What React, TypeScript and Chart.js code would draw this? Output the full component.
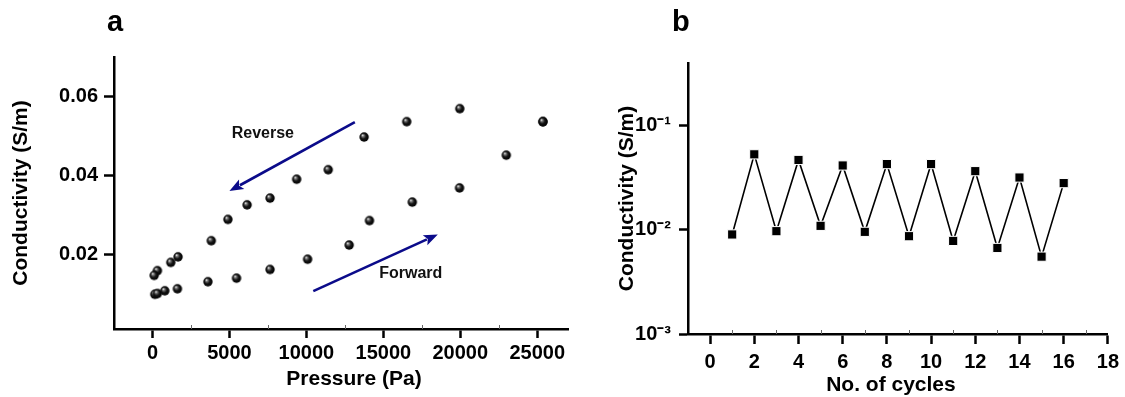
import React, { useEffect, useRef } from "react";
import { Chart, registerables } from "chart.js";

Chart.register(...registerables);

// ---------- Panel a data ----------
const forwardPressure = [150, 320, 800, 1620, 3600, 5460, 7640, 10080, 12780, 14100, 16880, 19950, 22990, 25370];
const forwardConductivity = [0.0098, 0.01, 0.0107, 0.0112, 0.013, 0.0139, 0.0161, 0.0187, 0.0223, 0.0285, 0.0332, 0.0368, 0.0451, 0.0536];
const reversePressure = [25370, 19970, 16520, 13750, 11420, 9370, 7640, 6150, 4900, 3820, 1660, 1190, 320, 110];
const reverseConductivity = [0.0536, 0.0569, 0.0536, 0.0497, 0.0414, 0.039, 0.0342, 0.0325, 0.0288, 0.0234, 0.0193, 0.0179, 0.0158, 0.0146];

const pressureTicks = [0, 5000, 10000, 15000, 20000, 25000];
const pressureMinorTicks = [2500, 7500, 12500, 17500, 22500];
const conductivityTicks = [0.02, 0.04, 0.06];

// annotation anchors (data units)
const reverseArrowFrom = [13150, 0.0535];
const reverseArrowTo = [5000, 0.036];
const forwardArrowFrom = [10450, 0.0106];
const forwardArrowTo = [18540, 0.025];
const reverseLabelAt = [7170, 0.0505];
const forwardLabelAt = [16780, 0.0151];

// ---------- Panel b data ----------
const cycles = [1, 2, 3, 4, 5, 6, 7, 8, 9, 10, 11, 12, 13, 14, 15, 16];
const cycleConductivity = [0.00903, 0.0531, 0.00971, 0.0469, 0.01093, 0.0415, 0.00957, 0.0428, 0.00869, 0.0428, 0.00783, 0.0366, 0.0067, 0.0318, 0.00553, 0.0281];
const cycleTicks = [0, 2, 4, 6, 8, 10, 12, 14, 16, 18];
const cycleMinorTicks = [1, 3, 5, 7, 9, 11, 13, 15, 17];
const logTicks = [0.001, 0.01, 0.1];
const logTickLabels = ["10\u207B\u00B3", "10\u207B\u00B2", "10\u207B\u00B9"];

const FONT = "'Liberation Sans', Arial, Helvetica, sans-serif";
const ARROW_COLOR = "#0b0b8a";

function makeSphere(r: number) {
  const c = document.createElement("canvas");
  const s = Math.ceil(r * 2) + 2;
  c.width = s;
  c.height = s;
  const g = c.getContext("2d")!;
  const cx = s / 2;
  const cy = s / 2;
  const grad = g.createRadialGradient(cx - r * 0.35, cy - r * 0.4, r * 0.05, cx, cy, r);
  grad.addColorStop(0, "#f2f2f2");
  grad.addColorStop(0.22, "#777");
  grad.addColorStop(0.55, "#151515");
  grad.addColorStop(1, "#000");
  g.fillStyle = grad;
  g.beginPath();
  g.arc(cx, cy, r, 0, Math.PI * 2);
  g.fill();
  return c;
}

function drawArrow(ctx: CanvasRenderingContext2D, x1: number, y1: number, x2: number, y2: number) {
  const ang = Math.atan2(y2 - y1, x2 - x1);
  const headLen = 14;
  const headHalf = 5.5;
  const bx = x2 - headLen * Math.cos(ang);
  const by = y2 - headLen * Math.sin(ang);
  ctx.save();
  ctx.strokeStyle = ARROW_COLOR;
  ctx.fillStyle = ARROW_COLOR;
  ctx.lineWidth = 2.6;
  ctx.beginPath();
  ctx.moveTo(x1, y1);
  ctx.lineTo(bx + 2 * Math.cos(ang), by + 2 * Math.sin(ang));
  ctx.stroke();
  ctx.beginPath();
  ctx.moveTo(x2, y2);
  ctx.lineTo(bx + headHalf * Math.sin(ang), by - headHalf * Math.cos(ang));
  ctx.lineTo(bx + 3 * Math.cos(ang), by + 3 * Math.sin(ang));
  ctx.lineTo(bx - headHalf * Math.sin(ang), by + headHalf * Math.cos(ang));
  ctx.closePath();
  ctx.fill();
  ctx.restore();
}

function minorTickPlugin(values: number[]) {
  return {
    id: "minorTicks",
    afterDraw(chart: any) {
      const xs = chart.scales.x;
      const ctx = chart.ctx;
      ctx.save();
      ctx.strokeStyle = "#666";
      ctx.lineWidth = 1;
      values.forEach((v) => {
        const px = Math.round(xs.getPixelForValue(v)) + 0.5;
        ctx.beginPath();
        ctx.moveTo(px, xs.top);
        ctx.lineTo(px, xs.top - 4);
        ctx.stroke();
      });
      ctx.restore();
    },
  };
}

// x-axis title drawn slightly off the plot centre, as in the original figure
function xTitlePlugin(text: string, dx: number, centerY: number) {
  return {
    id: "xTitle",
    afterDraw(chart: any) {
      const { ctx, chartArea } = chart;
      ctx.save();
      ctx.fillStyle = "#000";
      ctx.font = `bold 21px ${FONT}`;
      ctx.textAlign = "center";
      ctx.textBaseline = "middle";
      ctx.fillText(text, (chartArea.left + chartArea.right) / 2 + dx, centerY);
      ctx.restore();
    },
  };
}

const annotationPlugin = {
  id: "arrowsA",
  afterDatasetsDraw(chart: any) {
    const { ctx } = chart;
    const x = chart.scales.x;
    const y = chart.scales.y;
    drawArrow(
      ctx,
      x.getPixelForValue(reverseArrowFrom[0]),
      y.getPixelForValue(reverseArrowFrom[1]),
      x.getPixelForValue(reverseArrowTo[0]),
      y.getPixelForValue(reverseArrowTo[1])
    );
    drawArrow(
      ctx,
      x.getPixelForValue(forwardArrowFrom[0]),
      y.getPixelForValue(forwardArrowFrom[1]),
      x.getPixelForValue(forwardArrowTo[0]),
      y.getPixelForValue(forwardArrowTo[1])
    );
    ctx.save();
    ctx.fillStyle = "#111";
    ctx.font = `bold 16px ${FONT}`;
    ctx.textAlign = "center";
    ctx.textBaseline = "middle";
    ctx.fillText("Reverse", x.getPixelForValue(reverseLabelAt[0]), y.getPixelForValue(reverseLabelAt[1]));
    ctx.fillText("Forward", x.getPixelForValue(forwardLabelAt[0]), y.getPixelForValue(forwardLabelAt[1]));
    ctx.restore();
  },
};

const axisCommon = {
  border: { display: true, color: "#000", width: 2.5 },
  grid: {
    display: true,
    drawOnChartArea: false,
    drawTicks: true,
    tickLength: 9,
    tickWidth: 2.5,
    tickColor: "#000",
    color: "#000",
  },
};

function PanelA() {
  const ref = useRef<HTMLCanvasElement>(null);
  useEffect(() => {
    const sphere = makeSphere(4.7);
    const chart = new Chart(ref.current!, {
      type: "scatter",
      data: {
        datasets: [
          {
            label: "Forward",
            data: forwardPressure.map((p, i) => ({ x: p, y: forwardConductivity[i] })),
            pointStyle: sphere as any,
            pointRadius: 5,
            showLine: false,
          },
          {
            label: "Reverse",
            data: reversePressure.map((p, i) => ({ x: p, y: reverseConductivity[i] })),
            pointStyle: sphere as any,
            pointRadius: 5,
            showLine: false,
          },
        ],
      },
      options: {
        animation: false,
        responsive: false,
        devicePixelRatio: 1,
        layout: { padding: { top: 57, right: 12, left: 0, bottom: 0 } },
        plugins: { legend: { display: false }, tooltip: { enabled: false } },
        scales: {
          x: {
            type: "linear",
            min: -2500,
            max: 27000,
            ...axisCommon,
            afterBuildTicks: (s: any) => {
              s.ticks = pressureTicks.map((v) => ({ value: v }));
            },
            afterFit: (s: any) => {
              s.height = 68;
            },
            ticks: {
              color: "#000",
              padding: 3,
              maxRotation: 0,
              autoSkip: false,
              font: { family: FONT, size: 20, weight: "bold" },
              callback: (v: any) => String(v),
            },
            title: { display: false },
          },
          y: {
            type: "linear",
            min: 0.001,
            max: 0.07,
            ...axisCommon,
            grid: { ...axisCommon.grid, tickLength: 10 },
            afterBuildTicks: (s: any) => {
              s.ticks = conductivityTicks.map((v) => ({ value: v }));
            },
            afterFit: (s: any) => {
              s.width = 114;
            },
            ticks: {
              color: "#000",
              padding: 6,
              autoSkip: false,
              font: { family: FONT, size: 20, weight: "bold" },
              callback: (v: any) => Number(v).toFixed(2),
            },
            title: {
              display: true,
              text: "Conductivity (S/m)",
              color: "#000",
              font: { family: FONT, size: 21, weight: "bold" },
              padding: { top: 9, bottom: 0 },
            },
          },
        },
      } as any,
      plugins: [annotationPlugin, minorTickPlugin(pressureMinorTicks), xTitlePlugin("Pressure (Pa)", 13, 379)],
    });
    return () => chart.destroy();
  }, []);
  return <canvas ref={ref} width={580} height={397} style={{ width: 580, height: 397, display: "block" }} />;
}

function PanelB() {
  const ref = useRef<HTMLCanvasElement>(null);
  useEffect(() => {
    const chart = new Chart(ref.current!, {
      type: "line",
      data: {
        datasets: [
          {
            label: "Conductivity",
            data: cycles.map((c, i) => ({ x: c, y: cycleConductivity[i] })),
            borderColor: "#000",
            borderWidth: 1.6,
            pointStyle: "rect",
            pointRadius: 6.5,
            pointBackgroundColor: "#000",
            pointBorderColor: "#fff",
            pointBorderWidth: 1,
            tension: 0,
          },
        ],
      },
      options: {
        animation: false,
        responsive: false,
        devicePixelRatio: 1,
        layout: { padding: { top: 63, right: 15, left: 0, bottom: 0 } },
        plugins: { legend: { display: false }, tooltip: { enabled: false } },
        scales: {
          x: {
            type: "linear",
            min: -1,
            max: 18,
            ...axisCommon,
            grid: { ...axisCommon.grid, tickLength: 10 },
            afterBuildTicks: (s: any) => {
              s.ticks = cycleTicks.map((v) => ({ value: v }));
            },
            afterFit: (s: any) => {
              s.height = 63;
            },
            ticks: {
              color: "#000",
              padding: 6,
              maxRotation: 0,
              autoSkip: false,
              font: { family: FONT, size: 20, weight: "bold" },
              callback: (v: any) => String(v),
            },
            title: { display: false },
          },
          y: {
            type: "logarithmic",
            min: 0.001,
            max: 0.4,
            ...axisCommon,
            afterBuildTicks: (s: any) => {
              s.ticks = logTicks.map((v) => ({ value: v }));
            },
            afterFit: (s: any) => {
              s.width = 108;
            },
            ticks: {
              color: "#000",
              padding: 8,
              autoSkip: false,
              font: { family: FONT, size: 20, weight: "bold" },
              callback: (v: any) => {
                const i = logTicks.findIndex((t) => Math.abs(t - Number(v)) < 1e-9);
                return i >= 0 ? logTickLabels[i] : "";
              },
            },
            title: {
              display: true,
              text: "Conductivity (S/m)",
              color: "#000",
              font: { family: FONT, size: 21, weight: "bold" },
              padding: { top: 35, bottom: 0 },
            },
          },
        },
      } as any,
      plugins: [minorTickPlugin(cycleMinorTicks), xTitlePlugin("No. of cycles", -7, 385)],
    });
    return () => chart.destroy();
  }, []);
  return <canvas ref={ref} width={545} height={397} style={{ width: 545, height: 397, display: "block" }} />;
}

const letterStyle: React.CSSProperties = {
  position: "absolute",
  top: 7,
  fontFamily: FONT,
  fontWeight: "bold",
  fontSize: 29,
  lineHeight: "29px",
  color: "#000",
};

export default function App() {
  return (
    <div style={{ position: "absolute", left: 0, top: 0, width: 1125, height: 397, background: "#fff", overflow: "hidden" }}>
      <div style={{ position: "absolute", left: 0, top: 0 }}>
        <PanelA />
      </div>
      <div style={{ position: "absolute", left: 580, top: 0 }}>
        <PanelB />
      </div>
      <div style={{ ...letterStyle, left: 107 }}>a</div>
      <div style={{ ...letterStyle, left: 672 }}>b</div>
    </div>
  );
}
